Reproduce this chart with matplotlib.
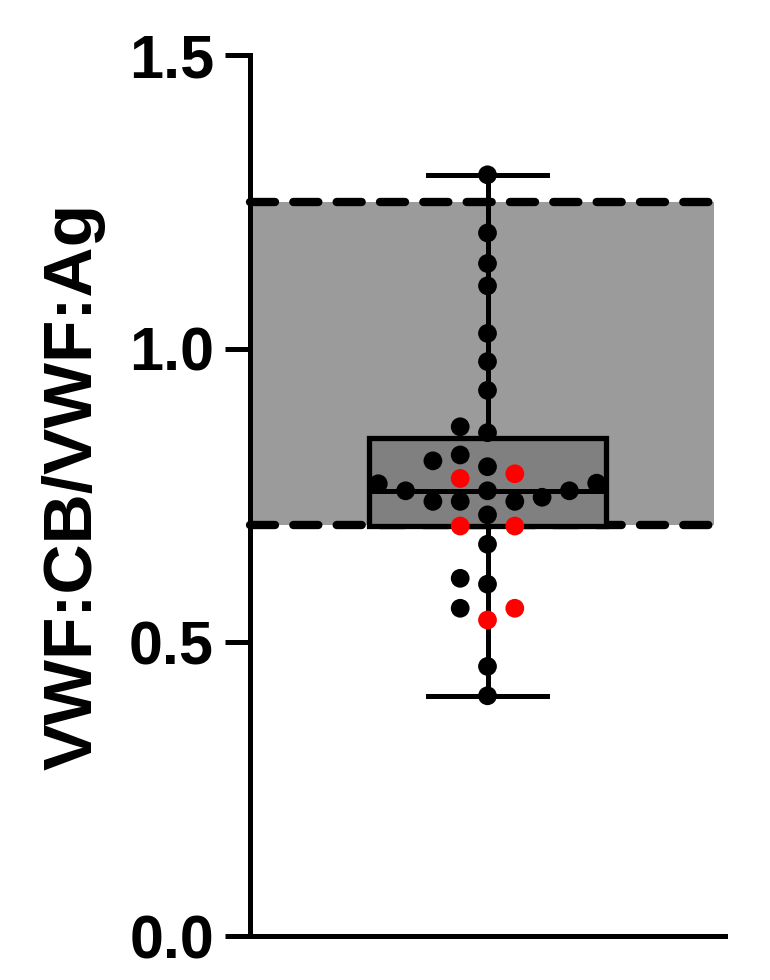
import numpy as np
import matplotlib.pyplot as plt

plt.rcParams['font.family'] = ['Liberation Sans', 'DejaVu Sans']
plt.rcParams['font.weight'] = 'bold'

# values
black_vals = [1.296, 1.197, 1.145, 1.107, 1.026, 0.978, 0.929, 0.867, 0.857,
              0.819, 0.809, 0.799, 0.771, 0.770, 0.758, 0.758, 0.758, 0.747,
              0.740, 0.740, 0.740, 0.717, 0.667, 0.609, 0.599, 0.558,
              0.459, 0.409]
red_vals = [0.787, 0.779, 0.698, 0.698, 0.558, 0.538]
ref_low, ref_high = 0.70, 1.25
y_ticks = [0.0, 0.5, 1.0, 1.5]
y_label = 'VWF:CB/VWF:Ag'

W, H = 770, 980
fig = plt.figure(figsize=(W / 100, H / 100), dpi=100)
ax_l, ax_b, ax_w, ax_h = 250 / W, 44 / H, 475 / W, 881 / H
ax = fig.add_axes([ax_l, ax_b, ax_w, ax_h])
ax.set_xlim(-0.5, 0.5)
ax.set_ylim(0, 1.5)

# reference range band
ax.fill_between([-0.5, 0.477], ref_low, ref_high, color='#9b9b9b', lw=0, zorder=1)
for v in (ref_low, ref_high):
    ax.plot([-0.5, 0.47], [v, v], color='black', lw=6, ls=(0, (3.0, 2.2)),
            dash_capstyle='round', solid_capstyle='round', zorder=2, clip_on=False)

all_vals = np.array(black_vals + red_vals)
colors = ['black'] * len(black_vals) + ['#ff0000'] * len(red_vals)

# box and whiskers (min to max)
ax.boxplot(all_vals, positions=[0], widths=0.5, whis=(0, 100), patch_artist=True,
           showfliers=False, manage_ticks=False,
           boxprops=dict(facecolor='#808080', edgecolor='black', linewidth=3.8),
           medianprops=dict(color='black', linewidth=3.6),
           whiskerprops=dict(color='black', linewidth=3.6),
           capprops=dict(color='black', linewidth=3.6), zorder=3)
for art in ax.lines[-5:] + ax.patches[-1:]:
    art.set_zorder(3)

# simple beeswarm in pixel space
px_x = ax_w * W / 1.0
px_y = ax_h * H / 1.5
step = 27.3 / px_x
diam = 22.0
order = np.argsort(all_vals)
xs = np.zeros(len(all_vals))
placed = []
for i in order:
    y = all_vals[i]
    for k in [0, -1, 1, -2, 2, -3, 3, -4, 4, -5, 5]:
        x = k * step
        ok = True
        for (px, py) in placed:
            if np.hypot((x - px) * px_x, (y - py) * px_y) < diam:
                ok = False
                break
        if ok:
            break
    xs[i] = x
    placed.append((x, y))

ax.scatter(xs, all_vals, s=13.5 ** 2, c=colors, edgecolors='none', zorder=4, clip_on=False)

for s in ['top', 'right']:
    ax.spines[s].set_visible(False)
ax.spines['left'].set_linewidth(3.6)
ax.spines['bottom'].set_linewidth(3.6)
ax.set_xticks([])
ax.set_yticks(y_ticks)
ax.set_yticklabels(['0.0', '0.5', '1.0', '1.5'])
ax.tick_params(axis='y', length=18, width=3.6, pad=8, labelsize=44)
for t in ax.get_yticklabels():
    t.set_fontweight('bold')

ax.set_ylabel(y_label, fontsize=50, fontweight='bold')
ax.yaxis.label.set_va('center')
ax.yaxis.set_label_coords(-0.372, 0.51)

fig.savefig('out.png', dpi=100)
